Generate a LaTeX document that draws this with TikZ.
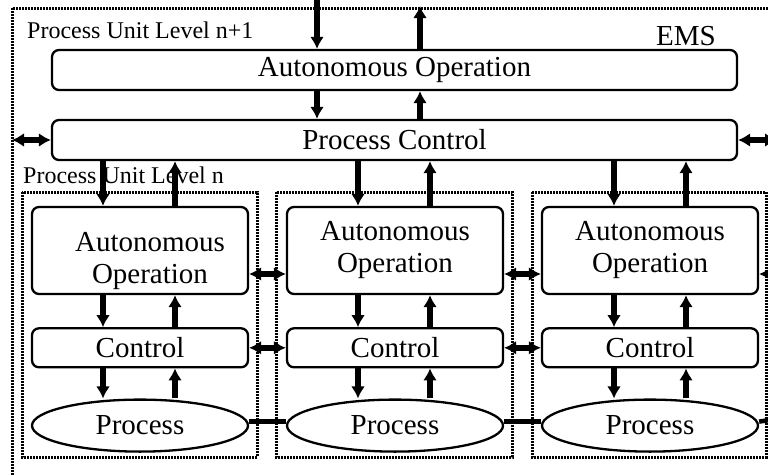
\documentclass[tikz,border=0pt]{standalone}
\usepackage{fontspec}
\setmainfont{Liberation Serif}
\usepackage{tikz}
\usetikzlibrary{arrows.meta,positioning,shapes.geometric}

\begin{document}
\begin{tikzpicture}[x=1pt,y=-1pt,>={Latex[length=12pt,width=14pt]},node distance=32pt,
  block/.style={draw=black,line width=2.3pt,rounded corners=7pt,align=center,inner sep=0pt,font=\fontsize{29}{32}\selectfont},
  wide/.style={block,minimum width=685pt,minimum height=40pt},
  unitblock/.style={block,minimum width=216pt},
  plant/.style={ellipse,draw=black,line width=2.3pt,inner sep=0pt,minimum width=216pt,minimum height=52pt,font=\fontsize{29}{32}\selectfont},
  frame/.style={line width=3pt,dash pattern=on 2pt off 1pt},
  flow/.style={->,line width=5.5pt},
  link/.style={<->,line width=5.5pt},
  tag/.style={anchor=base west,inner sep=0pt,font=\fontsize{24}{26}\selectfont}]
\useasboundingbox (0,0) rectangle (768,474);
\clip (0,0) rectangle (768,474);
% frames
\draw[frame] (12,8) rectangle (790,490);
\draw[frame] (22,192) rectangle (257,457);
\draw[frame] (276,192) rectangle (512,457);
\draw[frame] (532,192) rectangle (766,457);
\node[tag] (lvlup) at (27,38) {Process Unit Level n+1};
\node[tag] (lvl) at (23,183) {Process Unit Level n};
\node[tag,font=\fontsize{29}{32}\selectfont] (ems) at (656,45) {EMS};
% level n+1
\node[wide] (autoop) at (394.5,70) {Autonomous Operation};
\node[wide] (pctrl) at (394.5,140) {Process Control};
% level n units
\node[unitblock,minimum height=87pt] (ao1) at (140,250.5) {\hspace*{20pt}\raisebox{-17pt}[0pt][0pt]{\begin{tabular}{@{}c@{}}Autonomous\\Operation\end{tabular}}};
\node[unitblock,minimum height=39pt,below=of ao1] (ctl1) {Control};
\node[plant,below=30pt of ctl1] (proc1) {Process};
\node[unitblock,minimum height=87pt] (ao2) at (395,250.5) {Autonomous\\Operation};
\node[unitblock,minimum height=39pt,below=of ao2] (ctl2) {Control};
\node[plant,below=30pt of ctl2] (proc2) {Process};
\node[unitblock,minimum height=87pt] (ao3) at (650,250.5) {Autonomous\\Operation};
\node[unitblock,minimum height=39pt,below=of ao3] (ctl3) {Control};
\node[plant,below=30pt of ctl3] (proc3) {Process};
% outside ends
\coordinate (topin) at (317,0);
\coordinate (topout) at (420,6);
\coordinate (emsleft) at (12,140);
\coordinate (emsright) at (777,140);
\coordinate (aoright) at (812,274);
\coordinate (procright) at (790,417);
% vertical flows
\draw[flow] (topin) -- (topin |- autoop.north);
\draw[flow] (topout |- autoop.north) -- (topout);
\draw[flow] (topin |- autoop.south) -- (topin |- pctrl.north);
\draw[flow] (topout |- pctrl.north) -- (topout |- autoop.south);
\draw[flow] ([xshift=-37pt]ao1.north |- pctrl.south) -- ([xshift=-37pt]ao1.north);
\draw[flow] ([xshift=35pt]ao1.north) -- ([xshift=35pt]ao1.north |- pctrl.south);
\draw[flow] ([xshift=-37pt]ao2.north |- pctrl.south) -- ([xshift=-37pt]ao2.north);
\draw[flow] ([xshift=35pt]ao2.north) -- ([xshift=35pt]ao2.north |- pctrl.south);
\draw[flow] ([xshift=-36pt]ao3.north |- pctrl.south) -- ([xshift=-36pt]ao3.north);
\draw[flow] ([xshift=36pt]ao3.north) -- ([xshift=36pt]ao3.north |- pctrl.south);
\draw[flow] ([xshift=-37pt]ao1.south) -- ([xshift=-37pt]ctl1.north);
\draw[flow] ([xshift=35pt]ctl1.north) -- ([xshift=35pt]ao1.south);
\draw[flow] ([xshift=-37pt]ctl1.south) -- ([xshift=-37pt]proc1.north);
\draw[flow] ([xshift=35pt]proc1.north) -- ([xshift=35pt]ctl1.south);
\draw[flow] ([xshift=-37pt]ao2.south) -- ([xshift=-37pt]ctl2.north);
\draw[flow] ([xshift=35pt]ctl2.north) -- ([xshift=35pt]ao2.south);
\draw[flow] ([xshift=-37pt]ctl2.south) -- ([xshift=-37pt]proc2.north);
\draw[flow] ([xshift=35pt]proc2.north) -- ([xshift=35pt]ctl2.south);
\draw[flow] ([xshift=-36pt]ao3.south) -- ([xshift=-36pt]ctl3.north);
\draw[flow] ([xshift=36pt]ctl3.north) -- ([xshift=36pt]ao3.south);
\draw[flow] ([xshift=-36pt]ctl3.south) -- ([xshift=-36pt]proc3.north);
\draw[flow] ([xshift=36pt]proc3.north) -- ([xshift=36pt]ctl3.south);
% horizontal links
\draw[link] (emsleft) -- (pctrl.west);
\draw[link] (pctrl.east) -- (emsright);
\draw[link] ([yshift=-23.5pt]ao1.east) -- ([yshift=-23.5pt]ao2.west);
\draw[link] ([yshift=-23.5pt]ao2.east) -- ([yshift=-23.5pt]ao3.west);
\draw[link] ([yshift=-23.5pt]ao3.east) -- (aoright);
\draw[link] (ctl1.east) -- (ctl2.west);
\draw[link] (ctl2.east) -- (ctl3.west);
\draw[line width=4.5pt] ([yshift=4pt]proc1.east) -- ([yshift=4pt]proc2.west);
\draw[line width=4.5pt] ([yshift=4pt]proc2.east) -- ([yshift=4pt]proc3.west);
\draw[line width=4.5pt] ([yshift=4pt]proc3.east) -- (procright);
\end{tikzpicture}
\end{document}
